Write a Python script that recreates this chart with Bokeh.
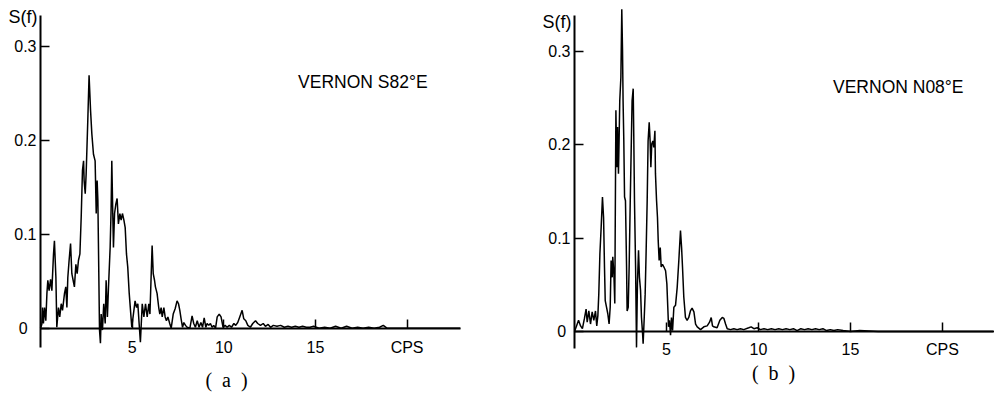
from bokeh.plotting import figure
from bokeh.models import Range1d, FixedTicker, Label
from bokeh.layouts import row
from bokeh.embed import file_html
from bokeh.resources import INLINE

# ---------------- data ----------------
freq_a = [0.0, 0.07, 0.11, 0.16, 0.22, 0.29, 0.35, 0.40, 0.47, 0.55, 0.62, 0.71, 0.76, 0.84, 0.89,
          0.98, 1.05, 1.13, 1.20, 1.31, 1.38, 1.44, 1.49, 1.56, 1.64, 1.71, 1.78, 1.85, 1.93, 2.00,
          2.07, 2.15, 2.22, 2.29, 2.35, 2.38, 2.44, 2.49, 2.58, 2.65, 2.73, 2.80, 2.89, 2.98, 3.04,
          3.09, 3.13, 3.16, 3.22, 3.27, 3.31, 3.38, 3.45, 3.53, 3.58, 3.65, 3.71, 3.80, 3.85, 3.89,
          3.95, 3.98, 4.04, 4.11, 4.18, 4.25, 4.33, 4.40, 4.47, 4.55, 4.62, 4.69, 4.76, 4.84, 4.91,
          4.98, 5.07, 5.16, 5.24, 5.31, 5.38, 5.45, 5.55, 5.64, 5.73, 5.82, 5.91, 5.97, 6.04, 6.09,
          6.15, 6.22, 6.27, 6.36, 6.45, 6.51, 6.58, 6.64, 6.73, 6.80, 6.87, 6.95, 7.05, 7.13, 7.24,
          7.35, 7.45, 7.53, 7.60, 7.67, 7.75, 7.82, 7.91, 8.00, 8.15, 8.27, 8.36, 8.45, 8.55, 8.65,
          8.75, 8.84, 8.93, 9.02, 9.09, 9.18, 9.27, 9.36, 9.45, 9.55, 9.64, 9.75, 9.85, 9.96, 10.07,
          10.18, 10.30, 10.42, 10.55, 10.65, 10.76, 10.87, 11.00, 11.09, 11.20, 11.31, 11.45, 11.58,
          11.73, 11.85, 12.00, 12.15, 12.27, 12.42, 12.55, 12.7, 12.9, 13.1, 13.3, 13.5, 13.7, 13.9,
          14.1, 14.3, 14.5, 14.7, 14.9, 15.2, 15.5, 15.8, 16.1, 16.4, 16.7, 17.0, 17.3, 17.6, 17.9,
          18.2, 18.5, 18.7, 18.9, 19.3, 19.8, 20.5, 21.5, 22.9]
spec_a = [0.0, 0.004, 0.022, 0.005, 0.022, 0.008, 0.037, 0.051, 0.040, 0.052, 0.040, 0.079, 0.093, 0.054, 0.001,
          0.022, 0.012, 0.026, 0.019, 0.037, 0.044, 0.022, 0.054, 0.072, 0.090, 0.058, 0.051, 0.044, 0.068, 0.058,
          0.072, 0.079, 0.118, 0.168, 0.178, 0.157, 0.143, 0.164, 0.221, 0.269, 0.232, 0.207, 0.185, 0.178, 0.122,
          0.157, 0.136, 0.090, -0.002, -0.016, 0.015, -0.002, 0.026, 0.005, 0.051, 0.012, 0.044, 0.086, 0.125, 0.178,
          0.115, 0.086, 0.122, 0.132, 0.138, 0.111, 0.122, 0.115, 0.122, 0.115, 0.107, 0.079, 0.065, 0.037, 0.019,
          0.001, 0.015, 0.029, 0.022, 0.026, 0.005, -0.015, 0.026, 0.012, 0.026, 0.012, 0.026, 0.015, 0.058, 0.088,
          0.058, 0.051, 0.044, 0.037, 0.022, 0.015, 0.022, 0.012, 0.022, 0.012, 0.008, 0.012, 0.005, 0.0, 0.015,
          0.021, 0.029, 0.026, 0.019, 0.010, 0.001, 0.006, 0.003, 0.001, 0.0, 0.013, 0.005, 0.001, 0.008, 0.001,
          0.006, 0.001, 0.011, 0.001, 0.005, 0.003, 0.005, 0.001, 0.003, 0.0, 0.012, 0.015, 0.012, 0.001, 0.003,
          0.001, 0.003, 0.001, 0.005, 0.003, 0.006, 0.012, 0.019, 0.010, 0.008, 0.003, 0.001, 0.005,
          0.008, 0.005, 0.003, 0.005, 0.002, 0.004, 0.001, 0.003, 0.002, 0.003, 0.001, 0.002, 0.001, 0.002,
          0.001, 0.002, 0.001, 0.001, 0.002, 0.0, 0.001, 0.0, 0.002, 0.0, 0.002, 0.0, 0.001, 0.0, 0.001,
          0.0, 0.001, 0.003, 0.0, 0.0, 0.0, 0.0, 0.0, 0.0]

freq_b = [0.0, 0.11, 0.22, 0.33, 0.43, 0.54, 0.63, 0.69, 0.78, 0.87, 0.96, 1.05, 1.14, 1.21, 1.27,
          1.32, 1.38, 1.45, 1.52, 1.58, 1.63, 1.67, 1.74, 1.81, 1.88, 1.94, 1.99, 2.05, 2.08, 2.14,
          2.19, 2.25, 2.30, 2.34, 2.39, 2.43, 2.46, 2.52, 2.57, 2.61, 2.64, 2.68, 2.72, 2.77, 2.83,
          2.86, 2.92, 2.97, 3.03, 3.08, 3.13, 3.19, 3.22, 3.26, 3.32, 3.37, 3.42, 3.48, 3.53, 3.59,
          3.64, 3.70, 3.73, 3.79, 3.84, 3.89, 3.95, 4.00, 4.06, 4.11, 4.15, 4.20, 4.26, 4.31, 4.37,
          4.40, 4.46, 4.51, 4.55, 4.60, 4.66, 4.71, 4.78, 4.86, 4.95, 5.02, 5.07, 5.11, 5.16, 5.22,
          5.27, 5.33, 5.40, 5.49, 5.58, 5.67, 5.76, 5.82, 5.87, 5.94, 6.03, 6.12, 6.21, 6.30, 6.39,
          6.49, 6.58, 6.67, 6.85, 7.03, 7.21, 7.34, 7.43, 7.50, 7.57, 7.75, 7.90, 8.03, 8.12, 8.21,
          8.30, 8.48, 8.66, 8.84, 9.02, 9.20, 9.47, 9.60, 9.75, 9.93, 10.1, 10.3, 10.5, 10.7, 10.9,
          11.1, 11.3, 11.5, 11.7, 11.9, 12.1, 12.3, 12.5, 12.7, 12.9, 13.1, 13.3, 13.5, 13.7, 13.9,
          14.1, 14.3, 14.6, 15.0, 15.5, 16.5, 18.0, 20.0, 22.8]
spec_b = [0.0, 0.006, 0.012, 0.006, 0.003, 0.014, 0.024, 0.010, 0.022, 0.008, 0.021, 0.012, 0.022, 0.006, 0.017,
          0.040, 0.083, 0.112, 0.144, 0.122, 0.069, 0.033, 0.026, 0.019, 0.008, 0.026, 0.076, 0.058, 0.080, 0.062,
          0.030, 0.237, 0.176, 0.219, 0.169, 0.212, 0.247, 0.272, 0.345, 0.301, 0.247, 0.204, 0.144, 0.140, 0.069,
          0.022, 0.026, 0.069, 0.140, 0.194, 0.247, 0.260, 0.212, 0.140, 0.069, -0.017, 0.051, 0.087, 0.058, 0.044,
          0.015, -0.002, -0.013, 0.015, 0.040, 0.083, 0.140, 0.204, 0.224, 0.204, 0.176, 0.201, 0.204, 0.197, 0.215,
          0.169, 0.140, 0.122, 0.097, 0.076, 0.090, 0.069, 0.072, 0.069, 0.065, 0.051, 0.026, 0.005, 0.012, -0.004,
          0.015, 0.001, 0.026, 0.028, 0.047, 0.076, 0.108, 0.090, 0.069, 0.037, 0.015, 0.012, 0.015, 0.022, 0.025,
          0.021, 0.008, 0.005, 0.002, 0.005, 0.006, 0.010, 0.015, 0.006, 0.005, 0.004, 0.012, 0.015, 0.014, 0.008,
          0.003, 0.002, 0.003, 0.002, 0.003, 0.002, 0.004, 0.005, 0.003, 0.004, 0.002, 0.003, 0.002, 0.003, 0.002,
          0.003, 0.002, 0.003, 0.002, 0.003, 0.001, 0.003, 0.002, 0.003, 0.002, 0.003, 0.002, 0.003, 0.001, 0.002,
          0.001, 0.002, 0.001, 0.0, 0.001, 0.0, 0.0, 0.0, 0.0]

x_ticks = [5, 10, 15, 20]
x_tick_labels = {20: "CPS"}
y_ticks = [0, 0.1, 0.2, 0.3]
y_name = "S(f)"
station_a = "VERNON  S82°E"
station_b = "VERNON  N08°E"
caption_a = "(\u2002a\u2002)"
caption_b = "(\u2002b\u2002)"

FONT = "Liberation Sans"


def panel(freq, spec, width, xr, yr, xbounds, ybounds, zero_label,
          station, cap_text, cap_x, cap_y, name_y, x_standoff):
    p = figure(width=width, height=395, output_backend="svg", toolbar_location=None,
               x_range=Range1d(xr[0], xr[1]), y_range=Range1d(yr[0], yr[1]),
               min_border=0, min_border_left=0, min_border_right=0,
               min_border_top=0, min_border_bottom=0)
    p.outline_line_color = None
    p.xgrid.visible = False
    p.ygrid.visible = False
    p.background_fill_color = "white"
    p.border_fill_color = "white"

    p.line(freq, spec, line_color="black", line_width=1.5)

    xa = p.xaxis[0]
    xa.fixed_location = 0
    xa.bounds = xbounds
    xa.ticker = FixedTicker(ticks=x_ticks)
    xa.major_label_overrides = x_tick_labels
    xa.major_tick_in = 9
    xa.major_tick_out = 0
    xa.minor_tick_line_color = None
    xa.axis_line_width = 2
    xa.major_tick_line_width = 1.5
    xa.major_label_text_font = FONT
    xa.major_label_text_font_size = "16px"
    xa.major_label_text_color = "black"
    xa.major_label_standoff = x_standoff

    ya = p.yaxis[0]
    ya.fixed_location = 0
    ya.bounds = ybounds
    ya.ticker = FixedTicker(ticks=y_ticks)
    ya.major_label_overrides = {0: zero_label}
    ya.major_tick_in = 9
    ya.major_tick_out = 0
    ya.minor_tick_line_color = None
    ya.axis_line_width = 2
    ya.major_tick_line_width = 1.5
    ya.major_label_text_font = FONT
    ya.major_label_text_font_size = "16px"
    ya.major_label_text_color = "black"
    ya.major_label_standoff = 4

    p.add_layout(Label(x=0, y=name_y, x_offset=-3, text=y_name, text_align="right",
                       text_baseline="middle", text_font=FONT, text_font_size="18px",
                       text_color="black"))
    p.add_layout(Label(x=14.05, y=0.262, text=station, text_align="left",
                       text_baseline="middle", text_font=FONT, text_font_size="17.5px",
                       text_color="black"))
    p.add_layout(Label(x=cap_x, y=cap_y, text=cap_text, text_align="center",
                       text_baseline="middle", text_font="Liberation Serif", text_font_size="20px",
                       text_color="black"))
    return p


# panel (a): 534 px wide, y axis 40 px from left, 18.33 px per cps, 940 px per unit S(f), zero at 327.7 px
pa = panel(freq_a, spec_a, 534, (-40 / 18.33, 494 / 18.33), (-67.3 / 940, 327.7 / 940),
           (0, 22.91), (-0.0205, 0.333), "0\u00a0\u00a0",
           station_a, caption_a, 10.15, -0.0556, 0.331, 11)
# panel (b): 460 px wide, y axis 40 px from left, 18.4 px per cps, 934 px per unit, zero at 331 px
pb = panel(freq_b, spec_b, 460, (-40 / 18.4, 420 / 18.4), (-64 / 934, 331 / 934),
           (0, 22.77), (-0.0185, 0.338), "0\u00a0",
           station_b, caption_b, 10.82, -0.0444, 0.331, 9)

layout = row(pa, pb)
open("out.html", "w").write(file_html(layout, INLINE))
